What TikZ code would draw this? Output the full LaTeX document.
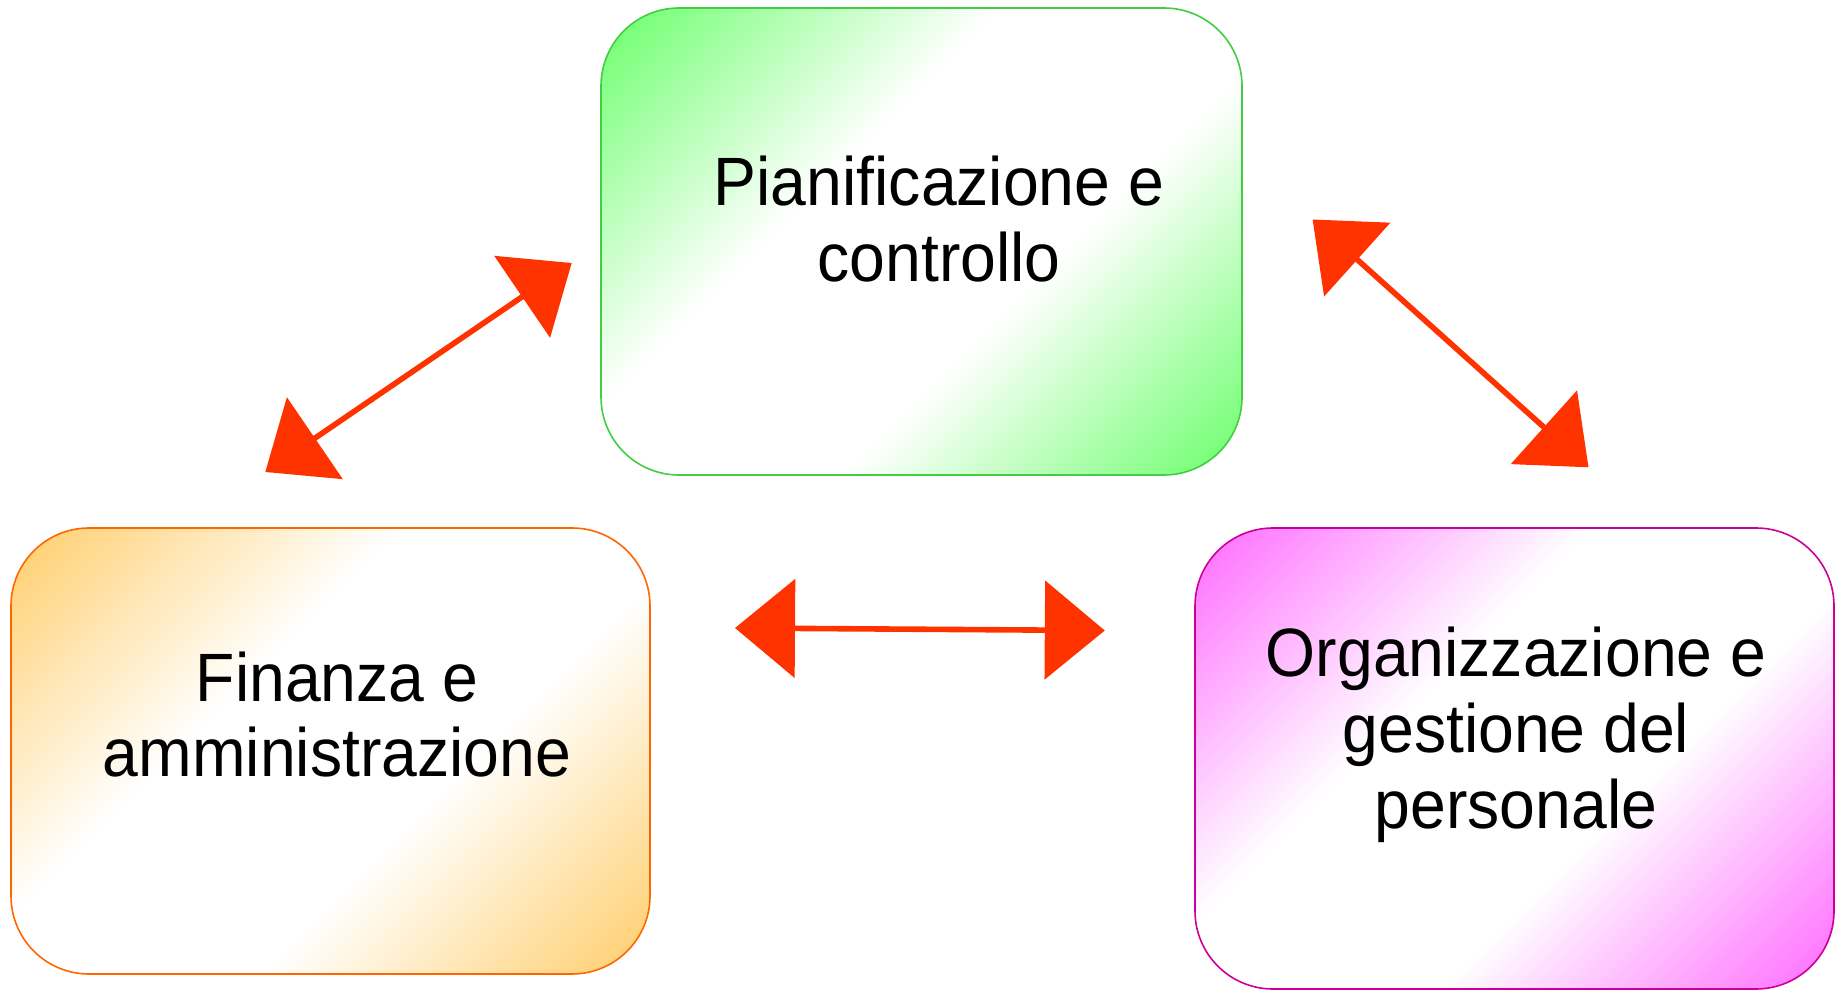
\documentclass[tikz,border=0pt]{standalone}
\usepackage{fontspec}
\setmainfont[FakeStretch=0.94]{Liberation Sans}
\usetikzlibrary{arrows.meta}

\definecolor{verde}{HTML}{66FF66}
\definecolor{verdebordo}{HTML}{44CC44}
\definecolor{arancio}{HTML}{FFCC66}
\definecolor{aranciobordo}{HTML}{FF6600}
\definecolor{rosa}{HTML}{FF66FF}
\definecolor{rosabordo}{HTML}{CC0099}
\definecolor{rossofreccia}{HTML}{FF3300}

\pgfdeclarehorizontalshading{shverde}{100bp}{color(0bp)=(verde); color(14bp)=(verde); color(27bp)=(verde!50!white); color(40bp)=(white); color(60bp)=(white); color(73bp)=(verde!50!white); color(86bp)=(verde); color(100bp)=(verde)}
\pgfdeclarehorizontalshading{sharancio}{100bp}{color(0bp)=(arancio); color(14bp)=(arancio); color(27bp)=(arancio!50!white); color(40bp)=(white); color(60bp)=(white); color(73bp)=(arancio!50!white); color(86bp)=(arancio); color(100bp)=(arancio)}
\pgfdeclarehorizontalshading{shrosa}{100bp}{color(0bp)=(rosa); color(14bp)=(rosa); color(27bp)=(rosa!50!white); color(40bp)=(white); color(60bp)=(white); color(73bp)=(rosa!50!white); color(86bp)=(rosa); color(100bp)=(rosa)}

\begin{document}
\begin{tikzpicture}[x=0.5pt,y=-0.5pt,
    area/.style={draw,line width=0.8pt,rounded corners=39pt,inner sep=0pt,shading angle=-45,minimum width=319.5pt},
    testo/.style={align=center,inner sep=0pt,font=\fontsize{34.2}{37.9}\selectfont},
    doppia/.style={rossofreccia,line width=2.8pt,{Triangle[length=30pt,width=49pt]}-{Triangle[length=30pt,width=49pt]}}]
    \useasboundingbox (0,0) rectangle (1841,990);

    \node[area,draw=verdebordo,shading=shverde,minimum width=320.5pt,minimum height=233.5pt] (pian) at (921.5,241.5) {};
    \node[area,draw=aranciobordo,shading=sharancio,minimum height=223pt] (fin) at (330.5,751) {};
    \node[area,draw=rosabordo,shading=shrosa,minimum height=230.5pt] (org) at (1514.5,758.5) {};

    \node[testo] (tpian) at (939,219) {Pianificazione e\\controllo};
    \node[testo] (tfin) at (337,714.5) {Finanza e\\amministrazione};
    \node[testo] (torg) at (1516,735) {Organizzazione e\\gestione del\\personale};

    \coordinate (finsu) at (265.3,472);
    \coordinate (pianfin) at (571.7,263);
    \coordinate (pianorg) at (1312.6,219.5);
    \coordinate (orgsu) at (1588.5,467.3);
    \coordinate (findx) at (735,628);
    \coordinate (orgsx) at (1104.8,630.5);

    \draw[doppia] (finsu) -- (pianfin);
    \draw[doppia] (pianorg) -- (orgsu);
    \draw[doppia] (findx) -- (orgsx);

  \end{tikzpicture}
\end{document}
